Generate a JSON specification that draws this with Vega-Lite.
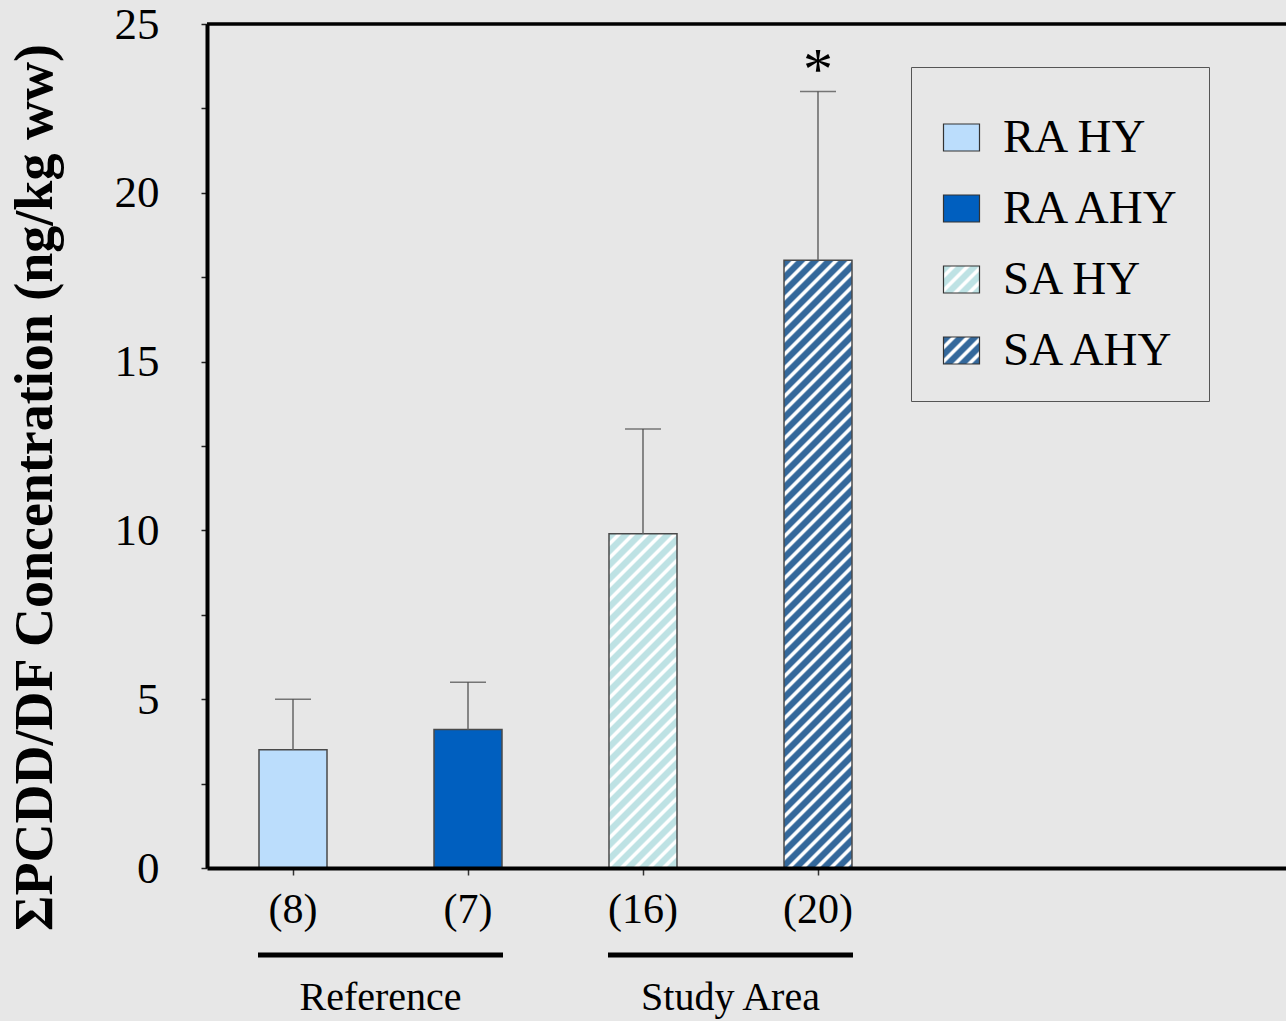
{
  "$schema": "https://vega.github.io/schema/vega-lite/v6.json",
  "width": 1079,
  "height": 844,
  "autosize": {"type": "none"},
  "padding": {"left": 207, "top": 24, "right": 0, "bottom": 153},
  "background": "#e7e7e7",
  "config": {"view": {"stroke": null}, "font": "Liberation Serif"},
  "data": {
    "values": [
      {"grp": "RA HY", "n": "(8)", "area": "Reference", "idx": 1, "mean": 3.5, "upper": 5.0, "sig": ""},
      {"grp": "RA AHY", "n": "(7)", "area": "Reference", "idx": 2, "mean": 4.1, "upper": 5.5, "sig": ""},
      {"grp": "SA HY", "n": "(16)", "area": "Study Area", "idx": 3, "mean": 9.9, "upper": 13.0, "sig": ""},
      {"grp": "SA AHY", "n": "(20)", "area": "Study Area", "idx": 4, "mean": 18.0, "upper": 23.0, "sig": "*"}
    ]
  },
  "layer": [
    {
      "transform": [{"filter": "datum.area === 'Reference'"}],
      "mark": {"type": "bar", "size": 68, "stroke": "#4a4a4a", "strokeWidth": 1.5},
      "encoding": {
        "x": {
          "field": "idx", "type": "quantitative", "title": null,
          "scale": {"domain": [0.50857, 6.67429], "nice": false, "zero": false, "padding": 0},
          "axis": {"values": [1, 2, 3, 4], "labels": false, "ticks": true, "tickSize": 7, "tickColor": "#333", "tickWidth": 1.5, "domainColor": "black", "domainWidth": 4, "grid": false, "title": null, "zindex": 1}
        },
        "y": {
          "field": "mean", "type": "quantitative",
          "scale": {"domain": [0, 25], "nice": false},
          "axis": {
            "values": [0, 2.5, 5, 7.5, 10, 12.5, 15, 17.5, 20, 22.5, 25],
            "labelExpr": "datum.value % 5 === 0 ? datum.label : ''",
            "tickSize": 6, "tickWidth": 1.5, "tickColor": "#222",
            "domainColor": "black", "domainWidth": 4,
            "labelFont": "Liberation Serif", "labelFontSize": 45, "labelColor": "black", "labelPadding": 42,
            "grid": false,
            "title": "ΣPCDD/DF Concentration (ng/kg ww)",
            "titleFont": "Liberation Serif", "titleFontSize": 54, "titleFontWeight": "bold", "titleColor": "black",
            "titleX": -172, "titleY": 463, "titleAngle": 270, "titleAlign": "center", "titleBaseline": "middle",
            "zindex": 1
          }
        },
        "color": {
          "field": "grp", "type": "nominal",
          "scale": {
            "domain": ["RA HY", "RA AHY", "SA HY", "SA AHY"],
            "range": [
              "#bbddfc",
              "#005fbf",
              {"expr": "{gradient:'linear',x1:0,y1:0,x2:1.2444,y2:0.9333,stops:[{offset:0,color:'#bee2e4'},{offset:0.1,color:'#bee2e4'},{offset:0.128,color:'#ffffff'},{offset:0.172,color:'#ffffff'},{offset:0.2,color:'#bee2e4'},{offset:0.3,color:'#bee2e4'},{offset:0.328,color:'#ffffff'},{offset:0.372,color:'#ffffff'},{offset:0.4,color:'#bee2e4'},{offset:0.5,color:'#bee2e4'},{offset:0.528,color:'#ffffff'},{offset:0.572,color:'#ffffff'},{offset:0.6,color:'#bee2e4'},{offset:0.7,color:'#bee2e4'},{offset:0.728,color:'#ffffff'},{offset:0.772,color:'#ffffff'},{offset:0.8,color:'#bee2e4'},{offset:0.9,color:'#bee2e4'},{offset:0.928,color:'#ffffff'},{offset:0.972,color:'#ffffff'},{offset:1,color:'#bee2e4'}]}"},
              {"expr": "{gradient:'linear',x1:0,y1:0,x2:1.2444,y2:0.9333,stops:[{offset:0,color:'#34689b'},{offset:0.1,color:'#34689b'},{offset:0.128,color:'#ffffff'},{offset:0.172,color:'#ffffff'},{offset:0.2,color:'#34689b'},{offset:0.3,color:'#34689b'},{offset:0.328,color:'#ffffff'},{offset:0.372,color:'#ffffff'},{offset:0.4,color:'#34689b'},{offset:0.5,color:'#34689b'},{offset:0.528,color:'#ffffff'},{offset:0.572,color:'#ffffff'},{offset:0.6,color:'#34689b'},{offset:0.7,color:'#34689b'},{offset:0.728,color:'#ffffff'},{offset:0.772,color:'#ffffff'},{offset:0.8,color:'#34689b'},{offset:0.9,color:'#34689b'},{offset:0.928,color:'#ffffff'},{offset:0.972,color:'#ffffff'},{offset:1,color:'#34689b'}]}"}
            ]
          },
          "legend": {
            "orient": "none", "legendX": 704, "legendY": 43,
            "title": " ", "titleFontSize": 10, "titlePadding": 10,
            "symbolType": "M-1,-0.75H1V0.75H-1Z", "symbolSize": 1296,
            "symbolStrokeColor": "#333", "symbolStrokeWidth": 1.2, "symbolOpacity": 1,
            "labelFont": "Liberation Serif", "labelFontSize": 47, "labelColor": "black", "labelOffset": 18, "labelLimit": 500,
            "rowPadding": 23, "padding": 27, "strokeColor": "#555"
          }
        }
      }
    },
    {
      "transform": [{"filter": "datum.grp === 'SA HY'"}],
      "mark": {
        "type": "bar", "size": 68, "stroke": "#4a4a4a", "strokeWidth": 1.5,
        "color": {"gradient": "linear", "x1": 0, "y1": 0, "x2": 0.32735, "y2": 1.6089, "stops": [
          {"offset": 0, "color": "#bee2e4"}, {"offset": 0.0125, "color": "#bee2e4"}, {"offset": 0.016, "color": "#ffffff"}, {"offset": 0.0215, "color": "#ffffff"},
          {"offset": 0.025, "color": "#bee2e4"}, {"offset": 0.0375, "color": "#bee2e4"}, {"offset": 0.041, "color": "#ffffff"}, {"offset": 0.0465, "color": "#ffffff"},
          {"offset": 0.05, "color": "#bee2e4"}, {"offset": 0.0625, "color": "#bee2e4"}, {"offset": 0.066, "color": "#ffffff"}, {"offset": 0.0715, "color": "#ffffff"},
          {"offset": 0.075, "color": "#bee2e4"}, {"offset": 0.0875, "color": "#bee2e4"}, {"offset": 0.091, "color": "#ffffff"}, {"offset": 0.0965, "color": "#ffffff"},
          {"offset": 0.1, "color": "#bee2e4"}, {"offset": 0.1125, "color": "#bee2e4"}, {"offset": 0.116, "color": "#ffffff"}, {"offset": 0.1215, "color": "#ffffff"},
          {"offset": 0.125, "color": "#bee2e4"}, {"offset": 0.1375, "color": "#bee2e4"}, {"offset": 0.141, "color": "#ffffff"}, {"offset": 0.1465, "color": "#ffffff"},
          {"offset": 0.15, "color": "#bee2e4"}, {"offset": 0.1625, "color": "#bee2e4"}, {"offset": 0.166, "color": "#ffffff"}, {"offset": 0.1715, "color": "#ffffff"},
          {"offset": 0.175, "color": "#bee2e4"}, {"offset": 0.1875, "color": "#bee2e4"}, {"offset": 0.191, "color": "#ffffff"}, {"offset": 0.1965, "color": "#ffffff"},
          {"offset": 0.2, "color": "#bee2e4"}, {"offset": 0.2125, "color": "#bee2e4"}, {"offset": 0.216, "color": "#ffffff"}, {"offset": 0.2215, "color": "#ffffff"},
          {"offset": 0.225, "color": "#bee2e4"}, {"offset": 0.2375, "color": "#bee2e4"}, {"offset": 0.241, "color": "#ffffff"}, {"offset": 0.2465, "color": "#ffffff"},
          {"offset": 0.25, "color": "#bee2e4"}, {"offset": 0.2625, "color": "#bee2e4"}, {"offset": 0.266, "color": "#ffffff"}, {"offset": 0.2715, "color": "#ffffff"},
          {"offset": 0.275, "color": "#bee2e4"}, {"offset": 0.2875, "color": "#bee2e4"}, {"offset": 0.291, "color": "#ffffff"}, {"offset": 0.2965, "color": "#ffffff"},
          {"offset": 0.3, "color": "#bee2e4"}, {"offset": 0.3125, "color": "#bee2e4"}, {"offset": 0.316, "color": "#ffffff"}, {"offset": 0.3215, "color": "#ffffff"},
          {"offset": 0.325, "color": "#bee2e4"}, {"offset": 0.3375, "color": "#bee2e4"}, {"offset": 0.341, "color": "#ffffff"}, {"offset": 0.3465, "color": "#ffffff"},
          {"offset": 0.35, "color": "#bee2e4"}, {"offset": 0.3625, "color": "#bee2e4"}, {"offset": 0.366, "color": "#ffffff"}, {"offset": 0.3715, "color": "#ffffff"},
          {"offset": 0.375, "color": "#bee2e4"}, {"offset": 0.3875, "color": "#bee2e4"}, {"offset": 0.391, "color": "#ffffff"}, {"offset": 0.3965, "color": "#ffffff"},
          {"offset": 0.4, "color": "#bee2e4"}, {"offset": 0.4125, "color": "#bee2e4"}, {"offset": 0.416, "color": "#ffffff"}, {"offset": 0.4215, "color": "#ffffff"},
          {"offset": 0.425, "color": "#bee2e4"}, {"offset": 0.4375, "color": "#bee2e4"}, {"offset": 0.441, "color": "#ffffff"}, {"offset": 0.4465, "color": "#ffffff"},
          {"offset": 0.45, "color": "#bee2e4"}, {"offset": 0.4625, "color": "#bee2e4"}, {"offset": 0.466, "color": "#ffffff"}, {"offset": 0.4715, "color": "#ffffff"},
          {"offset": 0.475, "color": "#bee2e4"}, {"offset": 0.4875, "color": "#bee2e4"}, {"offset": 0.491, "color": "#ffffff"}, {"offset": 0.4965, "color": "#ffffff"},
          {"offset": 0.5, "color": "#bee2e4"}, {"offset": 0.5125, "color": "#bee2e4"}, {"offset": 0.516, "color": "#ffffff"}, {"offset": 0.5215, "color": "#ffffff"},
          {"offset": 0.525, "color": "#bee2e4"}, {"offset": 0.5375, "color": "#bee2e4"}, {"offset": 0.541, "color": "#ffffff"}, {"offset": 0.5465, "color": "#ffffff"},
          {"offset": 0.55, "color": "#bee2e4"}, {"offset": 0.5625, "color": "#bee2e4"}, {"offset": 0.566, "color": "#ffffff"}, {"offset": 0.5715, "color": "#ffffff"},
          {"offset": 0.575, "color": "#bee2e4"}, {"offset": 0.5875, "color": "#bee2e4"}, {"offset": 0.591, "color": "#ffffff"}, {"offset": 0.5965, "color": "#ffffff"},
          {"offset": 0.6, "color": "#bee2e4"}, {"offset": 0.6125, "color": "#bee2e4"}, {"offset": 0.616, "color": "#ffffff"}, {"offset": 0.6215, "color": "#ffffff"},
          {"offset": 0.625, "color": "#bee2e4"}, {"offset": 0.6375, "color": "#bee2e4"}, {"offset": 0.641, "color": "#ffffff"}, {"offset": 0.6465, "color": "#ffffff"},
          {"offset": 0.65, "color": "#bee2e4"}, {"offset": 0.6625, "color": "#bee2e4"}, {"offset": 0.666, "color": "#ffffff"}, {"offset": 0.6715, "color": "#ffffff"},
          {"offset": 0.675, "color": "#bee2e4"}, {"offset": 0.6875, "color": "#bee2e4"}, {"offset": 0.691, "color": "#ffffff"}, {"offset": 0.6965, "color": "#ffffff"},
          {"offset": 0.7, "color": "#bee2e4"}, {"offset": 0.7125, "color": "#bee2e4"}, {"offset": 0.716, "color": "#ffffff"}, {"offset": 0.7215, "color": "#ffffff"},
          {"offset": 0.725, "color": "#bee2e4"}
        ]}
      },
      "encoding": {
        "x": {"field": "idx", "type": "quantitative", "title": null},
        "y": {"field": "mean", "type": "quantitative"}
      }
    },
    {
      "transform": [{"filter": "datum.grp === 'SA AHY'"}],
      "mark": {
        "type": "bar", "size": 68, "stroke": "#4a4a4a", "strokeWidth": 1.5,
        "color": {"gradient": "linear", "x1": 0, "y1": 0, "x2": 0.12731, "y2": 1.13768, "stops": [
          {"offset": 0, "color": "#34689b"}, {"offset": 0.01, "color": "#34689b"}, {"offset": 0.0128, "color": "#ffffff"}, {"offset": 0.0172, "color": "#ffffff"},
          {"offset": 0.02, "color": "#34689b"}, {"offset": 0.03, "color": "#34689b"}, {"offset": 0.0328, "color": "#ffffff"}, {"offset": 0.0372, "color": "#ffffff"},
          {"offset": 0.04, "color": "#34689b"}, {"offset": 0.05, "color": "#34689b"}, {"offset": 0.0528, "color": "#ffffff"}, {"offset": 0.0572, "color": "#ffffff"},
          {"offset": 0.06, "color": "#34689b"}, {"offset": 0.07, "color": "#34689b"}, {"offset": 0.0728, "color": "#ffffff"}, {"offset": 0.0772, "color": "#ffffff"},
          {"offset": 0.08, "color": "#34689b"}, {"offset": 0.09, "color": "#34689b"}, {"offset": 0.0928, "color": "#ffffff"}, {"offset": 0.0972, "color": "#ffffff"},
          {"offset": 0.10, "color": "#34689b"}, {"offset": 0.11, "color": "#34689b"}, {"offset": 0.1128, "color": "#ffffff"}, {"offset": 0.1172, "color": "#ffffff"},
          {"offset": 0.12, "color": "#34689b"}, {"offset": 0.13, "color": "#34689b"}, {"offset": 0.1328, "color": "#ffffff"}, {"offset": 0.1372, "color": "#ffffff"},
          {"offset": 0.14, "color": "#34689b"}, {"offset": 0.15, "color": "#34689b"}, {"offset": 0.1528, "color": "#ffffff"}, {"offset": 0.1572, "color": "#ffffff"},
          {"offset": 0.16, "color": "#34689b"}, {"offset": 0.17, "color": "#34689b"}, {"offset": 0.1728, "color": "#ffffff"}, {"offset": 0.1772, "color": "#ffffff"},
          {"offset": 0.18, "color": "#34689b"}, {"offset": 0.19, "color": "#34689b"}, {"offset": 0.1928, "color": "#ffffff"}, {"offset": 0.1972, "color": "#ffffff"},
          {"offset": 0.20, "color": "#34689b"}, {"offset": 0.21, "color": "#34689b"}, {"offset": 0.2128, "color": "#ffffff"}, {"offset": 0.2172, "color": "#ffffff"},
          {"offset": 0.22, "color": "#34689b"}, {"offset": 0.23, "color": "#34689b"}, {"offset": 0.2328, "color": "#ffffff"}, {"offset": 0.2372, "color": "#ffffff"},
          {"offset": 0.24, "color": "#34689b"}, {"offset": 0.25, "color": "#34689b"}, {"offset": 0.2528, "color": "#ffffff"}, {"offset": 0.2572, "color": "#ffffff"},
          {"offset": 0.26, "color": "#34689b"}, {"offset": 0.27, "color": "#34689b"}, {"offset": 0.2728, "color": "#ffffff"}, {"offset": 0.2772, "color": "#ffffff"},
          {"offset": 0.28, "color": "#34689b"}, {"offset": 0.29, "color": "#34689b"}, {"offset": 0.2928, "color": "#ffffff"}, {"offset": 0.2972, "color": "#ffffff"},
          {"offset": 0.30, "color": "#34689b"}, {"offset": 0.31, "color": "#34689b"}, {"offset": 0.3128, "color": "#ffffff"}, {"offset": 0.3172, "color": "#ffffff"},
          {"offset": 0.32, "color": "#34689b"}, {"offset": 0.33, "color": "#34689b"}, {"offset": 0.3328, "color": "#ffffff"}, {"offset": 0.3372, "color": "#ffffff"},
          {"offset": 0.34, "color": "#34689b"}, {"offset": 0.35, "color": "#34689b"}, {"offset": 0.3528, "color": "#ffffff"}, {"offset": 0.3572, "color": "#ffffff"},
          {"offset": 0.36, "color": "#34689b"}, {"offset": 0.37, "color": "#34689b"}, {"offset": 0.3728, "color": "#ffffff"}, {"offset": 0.3772, "color": "#ffffff"},
          {"offset": 0.38, "color": "#34689b"}, {"offset": 0.39, "color": "#34689b"}, {"offset": 0.3928, "color": "#ffffff"}, {"offset": 0.3972, "color": "#ffffff"},
          {"offset": 0.40, "color": "#34689b"}, {"offset": 0.41, "color": "#34689b"}, {"offset": 0.4128, "color": "#ffffff"}, {"offset": 0.4172, "color": "#ffffff"},
          {"offset": 0.42, "color": "#34689b"}, {"offset": 0.43, "color": "#34689b"}, {"offset": 0.4328, "color": "#ffffff"}, {"offset": 0.4372, "color": "#ffffff"},
          {"offset": 0.44, "color": "#34689b"}, {"offset": 0.45, "color": "#34689b"}, {"offset": 0.4528, "color": "#ffffff"}, {"offset": 0.4572, "color": "#ffffff"},
          {"offset": 0.46, "color": "#34689b"}, {"offset": 0.47, "color": "#34689b"}, {"offset": 0.4728, "color": "#ffffff"}, {"offset": 0.4772, "color": "#ffffff"},
          {"offset": 0.48, "color": "#34689b"}, {"offset": 0.49, "color": "#34689b"}, {"offset": 0.4928, "color": "#ffffff"}, {"offset": 0.4972, "color": "#ffffff"},
          {"offset": 0.50, "color": "#34689b"}, {"offset": 0.51, "color": "#34689b"}, {"offset": 0.5128, "color": "#ffffff"}, {"offset": 0.5172, "color": "#ffffff"},
          {"offset": 0.52, "color": "#34689b"}, {"offset": 0.53, "color": "#34689b"}, {"offset": 0.5328, "color": "#ffffff"}, {"offset": 0.5372, "color": "#ffffff"},
          {"offset": 0.54, "color": "#34689b"}, {"offset": 0.55, "color": "#34689b"}, {"offset": 0.5528, "color": "#ffffff"}, {"offset": 0.5572, "color": "#ffffff"},
          {"offset": 0.56, "color": "#34689b"}, {"offset": 0.57, "color": "#34689b"}, {"offset": 0.5728, "color": "#ffffff"}, {"offset": 0.5772, "color": "#ffffff"},
          {"offset": 0.58, "color": "#34689b"}, {"offset": 0.59, "color": "#34689b"}, {"offset": 0.5928, "color": "#ffffff"}, {"offset": 0.5972, "color": "#ffffff"},
          {"offset": 0.60, "color": "#34689b"}, {"offset": 0.61, "color": "#34689b"}, {"offset": 0.6128, "color": "#ffffff"}, {"offset": 0.6172, "color": "#ffffff"},
          {"offset": 0.62, "color": "#34689b"}, {"offset": 0.63, "color": "#34689b"}, {"offset": 0.6328, "color": "#ffffff"}, {"offset": 0.6372, "color": "#ffffff"},
          {"offset": 0.64, "color": "#34689b"}, {"offset": 0.65, "color": "#34689b"}, {"offset": 0.6528, "color": "#ffffff"}, {"offset": 0.6572, "color": "#ffffff"},
          {"offset": 0.66, "color": "#34689b"}, {"offset": 0.67, "color": "#34689b"}, {"offset": 0.6728, "color": "#ffffff"}, {"offset": 0.6772, "color": "#ffffff"},
          {"offset": 0.68, "color": "#34689b"}, {"offset": 0.69, "color": "#34689b"}, {"offset": 0.6928, "color": "#ffffff"}, {"offset": 0.6972, "color": "#ffffff"},
          {"offset": 0.70, "color": "#34689b"}, {"offset": 0.71, "color": "#34689b"}, {"offset": 0.7128, "color": "#ffffff"}, {"offset": 0.7172, "color": "#ffffff"},
          {"offset": 0.72, "color": "#34689b"}, {"offset": 0.73, "color": "#34689b"}, {"offset": 0.7328, "color": "#ffffff"}, {"offset": 0.7372, "color": "#ffffff"},
          {"offset": 0.74, "color": "#34689b"}, {"offset": 0.75, "color": "#34689b"}, {"offset": 0.7528, "color": "#ffffff"}, {"offset": 0.7572, "color": "#ffffff"},
          {"offset": 0.76, "color": "#34689b"}, {"offset": 0.77, "color": "#34689b"}, {"offset": 0.7728, "color": "#ffffff"}, {"offset": 0.7772, "color": "#ffffff"},
          {"offset": 0.78, "color": "#34689b"}, {"offset": 0.79, "color": "#34689b"}, {"offset": 0.7928, "color": "#ffffff"}, {"offset": 0.7972, "color": "#ffffff"},
          {"offset": 0.80, "color": "#34689b"}, {"offset": 0.81, "color": "#34689b"}, {"offset": 0.8128, "color": "#ffffff"}, {"offset": 0.8172, "color": "#ffffff"},
          {"offset": 0.82, "color": "#34689b"}, {"offset": 0.83, "color": "#34689b"}, {"offset": 0.8328, "color": "#ffffff"}, {"offset": 0.8372, "color": "#ffffff"},
          {"offset": 0.84, "color": "#34689b"}, {"offset": 0.85, "color": "#34689b"}, {"offset": 0.8528, "color": "#ffffff"}, {"offset": 0.8572, "color": "#ffffff"},
          {"offset": 0.86, "color": "#34689b"}, {"offset": 0.87, "color": "#34689b"}, {"offset": 0.8728, "color": "#ffffff"}, {"offset": 0.8772, "color": "#ffffff"},
          {"offset": 0.88, "color": "#34689b"}, {"offset": 0.89, "color": "#34689b"}, {"offset": 0.8928, "color": "#ffffff"}, {"offset": 0.8972, "color": "#ffffff"},
          {"offset": 0.90, "color": "#34689b"}, {"offset": 0.91, "color": "#34689b"}, {"offset": 0.9128, "color": "#ffffff"}, {"offset": 0.9172, "color": "#ffffff"},
          {"offset": 0.92, "color": "#34689b"}, {"offset": 0.93, "color": "#34689b"}, {"offset": 0.9328, "color": "#ffffff"}, {"offset": 0.9372, "color": "#ffffff"},
          {"offset": 0.94, "color": "#34689b"}, {"offset": 0.95, "color": "#34689b"}, {"offset": 0.9528, "color": "#ffffff"}, {"offset": 0.9572, "color": "#ffffff"},
          {"offset": 0.96, "color": "#34689b"}, {"offset": 0.97, "color": "#34689b"}, {"offset": 0.9728, "color": "#ffffff"}, {"offset": 0.9772, "color": "#ffffff"},
          {"offset": 0.98, "color": "#34689b"}
        ]}
      },
      "encoding": {
        "x": {"field": "idx", "type": "quantitative", "title": null},
        "y": {"field": "mean", "type": "quantitative"}
      }
    },
    {
      "mark": {"type": "rule", "color": "#666", "strokeWidth": 1.5},
      "encoding": {
        "x": {"field": "idx", "type": "quantitative", "title": null},
        "y": {"field": "mean", "type": "quantitative"},
        "y2": {"field": "upper"}
      }
    },
    {
      "mark": {"type": "tick", "orient": "horizontal", "size": 36, "thickness": 1.5, "color": "#444"},
      "encoding": {
        "x": {"field": "idx", "type": "quantitative", "title": null},
        "y": {"field": "upper", "type": "quantitative"}
      }
    },
    {
      "transform": [{"filter": "datum.sig !== ''"}],
      "mark": {"type": "text", "fontSize": 60, "font": "Liberation Serif", "baseline": "alphabetic", "yOffset": -3, "color": "black"},
      "encoding": {
        "x": {"field": "idx", "type": "quantitative", "title": null},
        "y": {"field": "upper", "type": "quantitative"},
        "text": {"field": "sig"}
      }
    },
    {
      "mark": {"type": "text", "fontSize": 42, "font": "Liberation Serif", "baseline": "middle", "yOffset": 42, "color": "black"},
      "encoding": {
        "x": {"field": "idx", "type": "quantitative", "title": null},
        "y": {"datum": 0, "type": "quantitative"},
        "text": {"field": "n"}
      }
    },
    {
      "transform": [{"aggregate": [{"op": "min", "field": "idx", "as": "lo"}, {"op": "max", "field": "idx", "as": "hi"}], "groupby": ["area"]}],
      "mark": {"type": "rule", "strokeWidth": 5, "color": "black", "xOffset": -35, "x2Offset": 35, "yOffset": 87},
      "encoding": {
        "x": {"field": "lo", "type": "quantitative", "title": null},
        "x2": {"field": "hi"},
        "y": {"datum": 0, "type": "quantitative"}
      }
    },
    {
      "transform": [{"aggregate": [{"op": "mean", "field": "idx", "as": "mid"}], "groupby": ["area"]}],
      "mark": {"type": "text", "fontSize": 40, "font": "Liberation Serif", "baseline": "alphabetic", "yOffset": 142, "color": "black"},
      "encoding": {
        "x": {"field": "mid", "type": "quantitative", "title": null},
        "y": {"datum": 0, "type": "quantitative"},
        "text": {"field": "area"}
      }
    },
    {
      "data": {"values": [{"top": 25}]},
      "mark": {"type": "rule", "color": "black", "strokeWidth": 3.5},
      "encoding": {
        "y": {"field": "top", "type": "quantitative"}
      }
    }
  ]
}
